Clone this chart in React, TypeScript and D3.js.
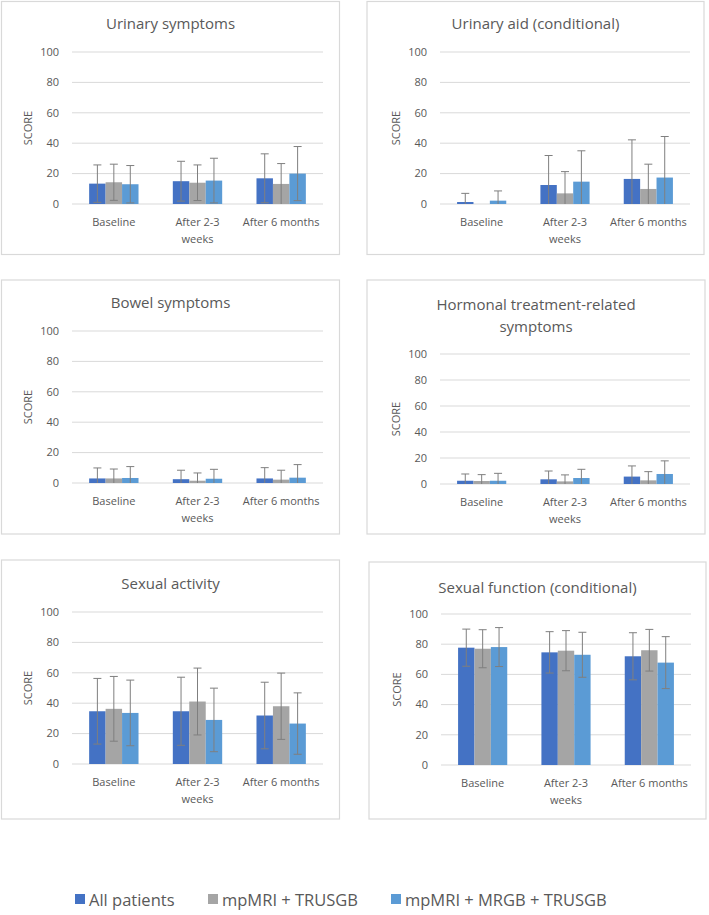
import * as React from 'react';
import * as d3 from 'd3';

// time points on the x axis (wrapped lines)
const categories = [['Baseline'], ['After 2-3', 'weeks'], ['After 6 months']];
const seriesNames = ['All patients', 'mpMRI + TRUSGB', 'mpMRI + MRGB + TRUSGB'];
const seriesColors = ['#4472C4', '#A5A5A5', '#5B9BD5'];
const yTicks = [0, 20, 40, 60, 80, 100];

// mean score per time point: [all, mpMRI+TRUSGB, mpMRI+MRGB+TRUSGB]
const urinarySymptomsMean = [[13.4, 14.3, 13.0], [15.0, 14.0, 15.4], [16.9, 13.2, 20.0]];
const urinarySymptomsSd = [[12.3, 11.9, 12.3], [13.1, 11.7, 14.7], [16.1, 13.4, 17.8]];

const urinaryAidMean = [[1.3, 0, 2.2], [12.5, 7.0, 14.7], [16.5, 9.9, 17.4]];
const urinaryAidSd = [[5.7, 0, 6.4], [19.4, 14.3, 20.3], [25.7, 16.3, 27.0]];

const bowelMean = [[3.0, 3.0, 3.3], [2.5, 1.5, 2.8], [3.0, 2.2, 3.5]];
const bowelSd = [[6.9, 6.2, 7.5], [5.9, 5.1, 6.2], [7.1, 6.2, 8.6]];

const hormonalMean = [[2.5, 2.3, 2.5], [3.6, 2.0, 4.6], [5.7, 2.8, 7.7]];
const hormonalSd = [[5.2, 4.9, 5.7], [6.4, 5.0, 6.7], [8.2, 6.7, 10.1]];

const sexualActivityMean = [[34.7, 36.3, 33.6], [34.7, 41.1, 29.0], [31.9, 38.0, 26.6]];
const sexualActivitySd = [[21.6, 21.3, 21.6], [22.4, 22.0, 20.9], [21.9, 21.8, 20.2]];

const sexualFunctionMean = [[77.7, 77.0, 78.1], [74.6, 75.7, 73.0], [72.0, 76.0, 67.8]];
const sexualFunctionSd = [[12.3, 12.6, 12.9], [13.7, 13.3, 14.9], [15.6, 13.8, 17.2]];

interface Panel {
    title: string[];
    mean: number[][];
    sd: number[][];
    box: { x: number, y: number, w: number, h: number };
    plot: { x0: number, x1: number, top: number, bottom: number };
    titleY: number;
}

const panels: Panel[] = [
    {
        title: ['Urinary symptoms'], mean: urinarySymptomsMean, sd: urinarySymptomsSd,
        box: { x: 1.5, y: 1.5, w: 338, h: 253 }, plot: { x0: 72, x1: 323, top: 52, bottom: 204 }, titleY: 29
    },
    {
        title: ['Urinary aid (conditional)'], mean: urinaryAidMean, sd: urinaryAidSd,
        box: { x: 367, y: 1.5, w: 337, h: 253 }, plot: { x0: 440, x1: 690, top: 52, bottom: 204 }, titleY: 29
    },
    {
        title: ['Bowel symptoms'], mean: bowelMean, sd: bowelSd,
        box: { x: 1.5, y: 280, w: 338, h: 254 }, plot: { x0: 72, x1: 323, top: 331, bottom: 483 }, titleY: 308
    },
    {
        title: ['Hormonal treatment-related', 'symptoms'], mean: hormonalMean, sd: hormonalSd,
        box: { x: 367, y: 280, w: 338, h: 254 }, plot: { x0: 440, x1: 690, top: 354, bottom: 484 }, titleY: 310
    },
    {
        title: ['Sexual activity'], mean: sexualActivityMean, sd: sexualActivitySd,
        box: { x: 1.5, y: 560, w: 338, h: 259 }, plot: { x0: 72, x1: 323, top: 612, bottom: 764 }, titleY: 589
    },
    {
        title: ['Sexual function (conditional)'], mean: sexualFunctionMean, sd: sexualFunctionSd,
        box: { x: 369, y: 562, w: 337, h: 257 }, plot: { x0: 441, x1: 691, top: 614, bottom: 765 }, titleY: 593
    },
];

const FONT = '"Open Sans", sans-serif';
const TEXT = '#595959';
const GRID = '#d9d9d9';
const ERR = '#7f7f7f';

function drawPanel(root: d3.Selection<SVGSVGElement, unknown, null, undefined>, p: Panel) {
    const g = root.append('g');

    g.append('rect')
        .attr('x', p.box.x).attr('y', p.box.y)
        .attr('width', p.box.w).attr('height', p.box.h)
        .attr('fill', '#fff').attr('stroke', GRID).attr('stroke-width', 1.2);

    const cx = p.box.x + p.box.w / 2;
    p.title.forEach((line, i) => {
        g.append('text')
            .attr('x', cx).attr('y', p.titleY + i * 22)
            .attr('text-anchor', 'middle')
            .attr('font-family', FONT).attr('font-size', 15)
            .attr('fill', TEXT)
            .text(line);
    });

    const y = d3.scaleLinear().domain([0, 100]).range([p.plot.bottom, p.plot.top]);
    const x0 = d3.scaleBand<number>()
        .domain(categories.map((_, i) => i))
        .range([p.plot.x0, p.plot.x1])
        .paddingInner(0.41).paddingOuter(0.205);
    const x1 = d3.scaleBand<number>()
        .domain(seriesNames.map((_, i) => i))
        .range([0, x0.bandwidth()]);

    // gridlines + tick labels
    yTicks.forEach(t => {
        g.append('line')
            .attr('x1', p.plot.x0).attr('x2', p.plot.x1)
            .attr('y1', y(t)).attr('y2', y(t))
            .attr('stroke', GRID).attr('stroke-width', 1);
        g.append('text')
            .attr('x', p.plot.x0 - 13).attr('y', y(t))
            .attr('dy', '0.35em')
            .attr('text-anchor', 'end')
            .attr('font-family', FONT).attr('font-size', 11)
            .attr('fill', TEXT)
            .text(t);
    });

    g.append('text')
        .attr('transform', `translate(${p.plot.x0 - 44},${(p.plot.top + p.plot.bottom) / 2}) rotate(-90)`)
        .attr('text-anchor', 'middle')
        .attr('dy', '0.35em')
        .attr('font-family', FONT).attr('font-size', 11)
        .attr('fill', TEXT)
        .text('SCORE');

    // category labels
    categories.forEach((lines, ci) => {
        const mx = (x0(ci) || 0) + x0.bandwidth() / 2;
        lines.forEach((line, li) => {
            g.append('text')
                .attr('x', mx).attr('y', p.plot.bottom + 22 + li * 17)
                .attr('text-anchor', 'middle')
                .attr('font-family', FONT).attr('font-size', 11)
                .attr('fill', TEXT)
                .text(line);
        });
    });

    // bars
    categories.forEach((_, ci) => {
        seriesNames.forEach((_, si) => {
            const v = p.mean[ci][si];
            const bx = (x0(ci) || 0) + (x1(si) || 0);
            g.append('rect')
                .attr('x', bx).attr('y', y(v))
                .attr('width', x1.bandwidth())
                .attr('height', y(0) - y(v))
                .attr('fill', seriesColors[si]);
        });
    });

    // error bars, clipped at the axis floor
    categories.forEach((_, ci) => {
        seriesNames.forEach((_, si) => {
            const v = p.mean[ci][si];
            const s = p.sd[ci][si];
            if (!s) return;
            const ex = (x0(ci) || 0) + (x1(si) || 0) + x1.bandwidth() / 2;
            const hi = y(Math.min(100, v + s));
            const loVal = v - s;
            const lo = y(Math.max(0, loVal));
            g.append('line')
                .attr('x1', ex).attr('x2', ex).attr('y1', hi).attr('y2', lo)
                .attr('stroke', ERR).attr('stroke-width', 1);
            g.append('line')
                .attr('x1', ex - 4).attr('x2', ex + 4).attr('y1', hi).attr('y2', hi)
                .attr('stroke', ERR).attr('stroke-width', 1);
            if (loVal >= 0) {
                g.append('line')
                    .attr('x1', ex - 4).attr('x2', ex + 4).attr('y1', lo).attr('y2', lo)
                    .attr('stroke', ERR).attr('stroke-width', 1);
            }
        });
    });
}

function drawLegend(root: d3.Selection<SVGSVGElement, unknown, null, undefined>) {
    const itemX = [75, 208, 391];
    const ly = 900;
    seriesNames.forEach((name, i) => {
        root.append('rect')
            .attr('x', itemX[i]).attr('y', ly - 6)
            .attr('width', 10).attr('height', 10)
            .attr('fill', seriesColors[i]);
        root.append('text')
            .attr('x', itemX[i] + 14).attr('y', ly)
            .attr('dy', '0.35em')
            .attr('font-family', FONT).attr('font-size', 16.5)
            .attr('fill', TEXT)
            .text(name);
    });
}

export default function App() {
    const ref = React.useRef<SVGSVGElement | null>(null);

    React.useEffect(() => {
        document.body.style.margin = '0';
        const root = d3.select(ref.current as SVGSVGElement);
        root.selectAll('*').remove();
        panels.forEach(p => drawPanel(root, p));
        drawLegend(root);
    }, []);

    return <svg ref={ref} width={709} height={915} style={{ display: 'block', background: '#fff' }} />;
}
